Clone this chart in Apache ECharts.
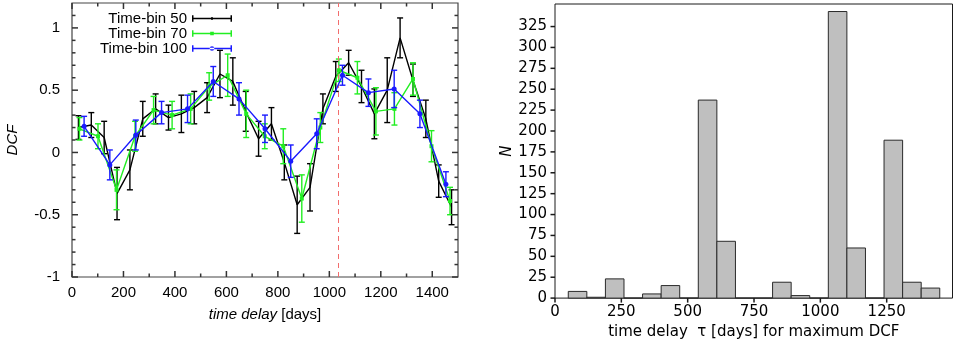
<!DOCTYPE html>
<html>
<head>
<meta charset="utf-8">
<script src="https://cdn.jsdelivr.net/npm/echarts@6/dist/echarts.min.js"></script>
<style>
html,body{margin:0;padding:0;background:#fff;}
#chart{width:957px;height:345px;}
</style>
</head>
<body>
<div id="chart"></div>
<script>
// ---------- Left panel: DCF vs time delay ----------
const bin50X = [25,75,125,175,225,275,325,375,425,475,525,575,625,675,725,775,825,875,925,975,1025,1075,1125,1175,1225,1275,1325,1375,1425,1475];
const bin50Y = [0.20,0.22,0.12,-0.33,-0.14,0.27,0.35,0.28,0.31,0.36,0.44,0.63,0.57,0.33,0.11,0.23,-0.08,-0.42,-0.28,0.35,0.61,0.72,0.53,0.31,0.50,0.92,0.58,0.27,-0.23,-0.44];
const bin50Err = [0.095,0.10,0.13,0.21,0.16,0.14,0.12,0.10,0.15,0.13,0.12,0.19,0.19,0.16,0.14,0.13,0.14,0.23,0.19,0.12,0.12,0.10,0.13,0.20,0.26,0.16,0.13,0.15,0.13,0.14];

const bin70X = [29,101,173,245,317,389,461,533,605,677,749,821,893,965,1037,1109,1181,1253,1325,1397,1469];
const bin70Y = [0.19,0.13,-0.30,0.13,0.34,0.30,0.35,0.53,0.62,0.31,0.13,0.05,-0.37,0.20,0.66,0.60,0.33,0.35,0.59,0.05,-0.39];
const bin70Err = [0.09,0.10,0.16,0.12,0.11,0.11,0.12,0.11,0.17,0.19,0.10,0.14,0.19,0.12,0.09,0.13,0.19,0.13,0.13,0.125,0.11];

const bin100X = [47,147,248,348,449,549,649,750,850,951,1051,1152,1252,1352,1453];
const bin100Y = [0.21,-0.10,0.14,0.32,0.35,0.57,0.43,0.19,-0.07,0.15,0.62,0.48,0.51,0.31,-0.255];
const bin100Err = [0.08,0.12,0.12,0.09,0.11,0.12,0.13,0.11,0.13,0.12,0.08,0.11,0.15,0.11,0.10];

const seriesNames = ['Time-bin 50','Time-bin 70','Time-bin 100'];
const markerDelay = 1035;

const leftXTicks = [0,200,400,600,800,1000,1200,1400];
const leftXMinorTicks = [100,300,500,700,900,1100,1300];
const leftYTicks = [-1,-0.5,0,0.5,1];
const leftYMinorTicks = [-0.9,-0.8,-0.7,-0.6,-0.4,-0.3,-0.2,-0.1,0.1,0.2,0.3,0.4,0.6,0.7,0.8,0.9,1.1];

// ---------- Right panel: histogram ----------
const histBinStart = [50,120,190,260,330,400,470,540,610,680,750,820,890,960,1030,1100,1170,1240,1310,1380];
const histBinEnd   = [120,190,260,330,400,470,540,610,680,750,820,890,960,1030,1100,1170,1240,1310,1380,1450];
const histCounts   = [8,1,23,0,5,15,0,237,68,0,0,19,3,0,343,60,0,189,19,12];
const rightXTicks = [0,250,500,750,1000,1250];
const rightYTicks = [0,25,50,75,100,125,150,175,200,225,250,275,300,325];

// ---------- helpers ----------
const gFont = 'Liberation Sans';
const mFont = 'DejaVu Sans';
const frame = '#333';
const plain = v => String(v);
const LX = [0, 1500], LY = [-1, 1.2], RX = [0, 1498], RY = [0, 352];

function errSeries(name, xs, ys, es, color, z) {
  return {
    type: 'custom', name: name + ' err', xAxisIndex: 0, yAxisIndex: 0, silent: true,
    data: xs.map((x, i) => [x, ys[i], es[i]]),
    renderItem: function (params, api) {
      const x = api.value(0), y = api.value(1), e = api.value(2);
      const top = api.coord([x, y + e]);
      const bot = api.coord([x, y - e]);
      const cw = 3;
      const st = {stroke: color, lineWidth: 1.4};
      return {type: 'group', children: [
        {type: 'line', shape: {x1: top[0], y1: top[1], x2: bot[0], y2: bot[1]}, style: st},
        {type: 'line', shape: {x1: top[0]-cw, y1: top[1], x2: top[0]+cw, y2: top[1]}, style: st},
        {type: 'line', shape: {x1: bot[0]-cw, y1: bot[1], x2: bot[0]+cw, y2: bot[1]}, style: st}
      ]};
    },
    z: z
  };
}

// tick marks drawn through the axis scales (gnuplot mirrored inside ticks / matplotlib outside ticks)
function tickSeries(axisIdx, dir, values, len, mirror, inside, xr, yr, color) {
  return {
    type: 'custom', xAxisIndex: axisIdx, yAxisIndex: axisIdx, silent: true, clip: false, z: 10,
    data: values.map(v => dir === 'x' ? [v, yr[0], len] : [xr[0], v, len]),
    renderItem: function (params, api) {
      const L = api.value(2);
      const st = {stroke: color, lineWidth: 1.5};
      const kids = [];
      const s = inside ? 1 : -1;
      if (dir === 'x') {
        const v = api.value(0);
        const b = api.coord([v, yr[0]]);
        kids.push({type: 'line', shape: {x1: b[0], y1: b[1], x2: b[0], y2: b[1] - s * L}, style: st});
        if (mirror) {
          const t = api.coord([v, yr[1]]);
          kids.push({type: 'line', shape: {x1: t[0], y1: t[1], x2: t[0], y2: t[1] + s * L}, style: st});
        }
      } else {
        const v = api.value(1);
        const l = api.coord([xr[0], v]);
        kids.push({type: 'line', shape: {x1: l[0], y1: l[1], x2: l[0] + s * L, y2: l[1]}, style: st});
        if (mirror) {
          const r = api.coord([xr[1], v]);
          kids.push({type: 'line', shape: {x1: r[0], y1: r[1], x2: r[0] - s * L, y2: r[1]}, style: st});
        }
      }
      return {type: 'group', children: kids};
    }
  };
}

const capPath = 'M0,3.2h40v1.6h-40z M0,0.8h1.5v6.4h-1.5z M38.5,0.8h1.5v6.4h-1.5z';
const icons = [
  'path://' + capPath + ' M19.3,2.4h1.4v3.2h-1.4z',
  'path://' + capPath + ' M18.2,2.2h3.6v3.6h-3.6z',
  'path://' + capPath + ' M17.7,4a2.3,2.3 0 1,0 4.6,0a2.3,2.3 0 1,0 -4.6,0z'
];
const colors = ['#000000', '#22ee22', '#1a1aff'];

const chart = echarts.init(document.getElementById('chart'), null, {renderer: 'canvas'});

const option = {
  animation: false,
  backgroundColor: '#fff',
  grid: [
    {left: 72, top: 3, width: 386, height: 274, show: true, borderColor: '#444', borderWidth: 1.2, backgroundColor: 'transparent'},
    {left: 555, top: 4, width: 397.5, height: 296, show: true, borderColor: '#1a1a1a', borderWidth: 1, backgroundColor: 'transparent'}
  ],
  legend: {
    orient: 'vertical', align: 'right', right: 957 - 237, top: 6,
    itemWidth: 40, itemHeight: 8, itemGap: 0,
    selectedMode: false,
    textStyle: {fontFamily: gFont, fontSize: 15, color: '#000', lineHeight: 15, width: 92, align: 'right'},
    data: seriesNames.map((n, i) => ({name: n, icon: icons[i]}))
  },
  xAxis: [
    {
      type: 'value', gridIndex: 0, position: 'bottom', min: LX[0], max: LX[1],
      axisLine: {show: false, onZero: false}, splitLine: {show: false}, axisTick: {show: false},
      axisLabel: {customValues: leftXTicks, formatter: plain, color: '#000', fontFamily: gFont, fontSize: 15, margin: 8},
      name: '{it|time delay} [days]', nameLocation: 'middle', nameGap: 30,
      nameTextStyle: {fontFamily: gFont, fontSize: 15, color: '#000', rich: {it: {fontStyle: 'italic', fontFamily: gFont, fontSize: 15, color: '#000'}}}
    },
    {
      type: 'value', gridIndex: 1, position: 'bottom', min: RX[0], max: RX[1],
      axisLine: {show: false, onZero: false}, splitLine: {show: false}, axisTick: {show: false},
      axisLabel: {customValues: rightXTicks, formatter: plain, color: '#000', fontFamily: mFont, fontSize: 15, margin: 7},
      name: 'time delay  \u03c4 [days] for maximum DCF', nameLocation: 'middle', nameGap: 26,
      nameTextStyle: {fontFamily: mFont, fontSize: 15, color: '#000'}
    }
  ],
  yAxis: [
    {
      type: 'value', gridIndex: 0, position: 'left', min: LY[0], max: LY[1],
      axisLine: {show: false, onZero: false}, splitLine: {show: false}, axisTick: {show: false},
      axisLabel: {customValues: leftYTicks, formatter: plain, color: '#000', fontFamily: gFont, fontSize: 15, margin: 12},
      name: 'DCF', nameLocation: 'middle', nameGap: 52, nameRotate: 90,
      nameTextStyle: {fontFamily: gFont, fontSize: 15, fontStyle: 'italic', color: '#000'}
    },
    {
      type: 'value', gridIndex: 1, position: 'left', min: RY[0], max: RY[1],
      axisLine: {show: false, onZero: false}, splitLine: {show: false}, axisTick: {show: false},
      axisLabel: {customValues: rightYTicks, formatter: plain, color: '#000', fontFamily: mFont, fontSize: 15, margin: 8},
      name: 'N', nameLocation: 'middle', nameGap: 37, nameRotate: 90,
      nameTextStyle: {fontFamily: mFont, fontSize: 15, fontStyle: 'italic', color: '#000'}
    }
  ],
  series: [
    tickSeries(0, 'x', leftXTicks, 6, true, true, LX, LY, frame),
    tickSeries(0, 'x', leftXMinorTicks, 3.5, true, true, LX, LY, frame),
    tickSeries(0, 'y', leftYTicks, 6, true, true, LX, LY, frame),
    tickSeries(0, 'y', leftYMinorTicks, 3.5, true, true, LX, LY, frame),
    tickSeries(1, 'x', rightXTicks, 4.5, false, false, RX, RY, '#1a1a1a'),
    tickSeries(1, 'y', rightYTicks, 4.5, false, false, RX, RY, '#1a1a1a'),
    errSeries(seriesNames[0], bin50X, bin50Y, bin50Err, colors[0], 2),
    {
      type: 'line', name: seriesNames[0], xAxisIndex: 0, yAxisIndex: 0,
      data: bin50X.map((x, i) => [x, bin50Y[i]]),
      showSymbol: false, symbol: 'none',
      lineStyle: {color: colors[0], width: 1.4}, itemStyle: {color: colors[0]}, z: 3,
      markLine: {
        silent: true, symbol: 'none', label: {show: false},
        lineStyle: {color: '#f26d6d', type: [5, 4], width: 1},
        data: [{xAxis: markerDelay}]
      }
    },
    errSeries(seriesNames[1], bin70X, bin70Y, bin70Err, colors[1], 4),
    {
      type: 'line', name: seriesNames[1], xAxisIndex: 0, yAxisIndex: 0,
      data: bin70X.map((x, i) => [x, bin70Y[i]]),
      symbol: 'rect', symbolSize: 4,
      lineStyle: {color: colors[1], width: 1.4}, itemStyle: {color: colors[1]}, z: 5
    },
    errSeries(seriesNames[2], bin100X, bin100Y, bin100Err, colors[2], 6),
    {
      type: 'line', name: seriesNames[2], xAxisIndex: 0, yAxisIndex: 0,
      data: bin100X.map((x, i) => [x, bin100Y[i]]),
      symbol: 'circle', symbolSize: 5,
      lineStyle: {color: colors[2], width: 1.4}, itemStyle: {color: colors[2]}, z: 7
    },
    {
      type: 'custom', name: 'hist', xAxisIndex: 1, yAxisIndex: 1, silent: true,
      data: histBinStart.map((s, i) => [s, histBinEnd[i], histCounts[i]]),
      renderItem: function (params, api) {
        const p0 = api.coord([api.value(0), api.value(2)]);
        const p1 = api.coord([api.value(1), 0]);
        return {type: 'rect', shape: {x: p0[0], y: p0[1], width: p1[0] - p0[0], height: p1[1] - p0[1]},
          style: {fill: '#bfbfbf', stroke: '#2a2a2a', lineWidth: 1}};
      }
    }
  ]
};
chart.setOption(option);
</script>
</body>
</html>
